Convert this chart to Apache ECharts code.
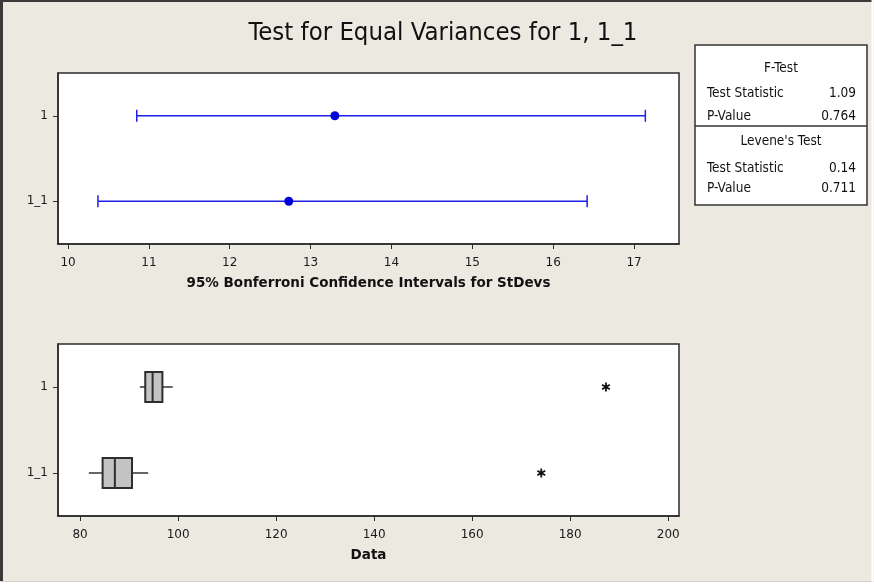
<!DOCTYPE html>
<html>
<head>
<meta charset="utf-8">
<script src="https://cdn.jsdelivr.net/npm/echarts@6/dist/echarts.min.js"></script>
<style>
  html, body { margin: 0; padding: 0; background: #ece9e1; }
  #chart { width: 874px; height: 584px; }
</style>
</head>
<body>
<div id="chart"></div>
<script>
// Groups (top to bottom)
const groups = ['1', '1_1'];

// 95% Bonferroni confidence intervals for the standard deviations
const sdLower = [10.85, 10.37];
const sdEstimate = [13.30, 12.73];
const sdUpper = [17.14, 16.42];
const sdTicks = [10, 11, 12, 13, 14, 15, 16, 17];

// Box plot summaries of the data
const whiskerLow = [92.2, 81.8];
const quartile1 = [93.3, 84.6];
const medians = [94.8, 87.1];
const quartile3 = [96.8, 90.6];
const whiskerHigh = [98.9, 93.9];
const outliers = [[187.3, '1'], [174.1, '1_1']];
const dataTicks = [80, 100, 120, 140, 160, 180, 200];

// Test results panel
const testHeaders = ['F-Test', "Levene's Test"];
const testStatistics = ['1.09', '0.14'];
const testPValues = ['0.764', '0.711'];

const FONT = 'DejaVu Sans Condensed, DejaVu Sans, sans-serif';
const TICK_FONT = 'DejaVu Sans, sans-serif';
const AXIS_COLOR = '#2b2b2b';
const BLUE = '#1f1fe8';
const DOT_BLUE = '#0000dd';

const chart = echarts.init(document.getElementById('chart'), null, { renderer: 'canvas' });

function valueAxis(gridIndex, min, max, ticks, name) {
  return {
    type: 'value', gridIndex, min, max,
    name, nameLocation: 'middle', nameGap: 32,
    nameTextStyle: { fontFamily: TICK_FONT, fontWeight: 'bold', fontSize: 13.5, color: '#111' },
    axisLine: { show: true, lineStyle: { color: AXIS_COLOR, width: 1.5 } },
    axisTick: { show: true, length: 5, lineStyle: { color: AXIS_COLOR, width: 1 }, customValues: ticks },
    axisLabel: { fontFamily: TICK_FONT, fontSize: 12, color: '#1a1a1a', margin: 13, customValues: ticks },
    splitLine: { show: false }
  };
}

function categoryAxis(gridIndex) {
  return {
    type: 'category', gridIndex, data: groups, inverse: true,
    boundaryGap: true,
    axisLine: { show: true, lineStyle: { color: AXIS_COLOR, width: 1.5 } },
    axisTick: { show: true, alignWithLabel: true, length: 5, lineStyle: { color: AXIS_COLOR } },
    axisLabel: { fontFamily: TICK_FONT, fontSize: 12, color: '#1a1a1a', margin: 10 },
    splitLine: { show: false }
  };
}

// Horizontal interval with end caps
function renderInterval(params, api) {
  const y = api.value(0);
  const p0 = api.coord([api.value(1), y]);
  const p1 = api.coord([api.value(2), y]);
  const cap = 6;
  const style = { stroke: BLUE, lineWidth: 1.5 };
  return {
    type: 'group',
    children: [
      { type: 'line', shape: { x1: p0[0], y1: p0[1], x2: p1[0], y2: p1[1] }, style },
      { type: 'line', shape: { x1: p0[0], y1: p0[1] - cap, x2: p0[0], y2: p0[1] + cap }, style },
      { type: 'line', shape: { x1: p1[0], y1: p1[1] - cap, x2: p1[0], y2: p1[1] + cap }, style }
    ]
  };
}

// Box with median line and whiskers (no whisker end caps)
function renderBox(params, api) {
  const y = api.value(0);
  const wl = api.coord([api.value(1), y]);
  const q1 = api.coord([api.value(2), y]);
  const md = api.coord([api.value(3), y]);
  const q3 = api.coord([api.value(4), y]);
  const wh = api.coord([api.value(5), y]);
  const h = 15;
  const stroke = { stroke: '#333', lineWidth: 1.5 };
  return {
    type: 'group',
    children: [
      { type: 'line', shape: { x1: wl[0], y1: wl[1], x2: q1[0], y2: q1[1] }, style: stroke },
      { type: 'line', shape: { x1: q3[0], y1: q3[1], x2: wh[0], y2: wh[1] }, style: stroke },
      { type: 'rect', shape: { x: q1[0], y: q1[1] - h, width: q3[0] - q1[0], height: 2 * h },
        style: { fill: '#c3c3c3', stroke: '#2e2e2e', lineWidth: 2 } },
      { type: 'line', shape: { x1: md[0], y1: md[1] - h, x2: md[0], y2: md[1] + h }, style: { stroke: '#2e2e2e', lineWidth: 2 } }
    ]
  };
}

// Asterisk marker for outliers
function renderStar(params, api) {
  const p = api.coord([api.value(0), api.value(1)]);
  const r = 4.5;
  const s = { stroke: '#111', lineWidth: 1.8 };
  const d = r * 0.87;
  return {
    type: 'group',
    children: [
      { type: 'line', shape: { x1: p[0], y1: p[1] - r, x2: p[0], y2: p[1] + r }, style: s },
      { type: 'line', shape: { x1: p[0] - d, y1: p[1] - r / 2, x2: p[0] + d, y2: p[1] + r / 2 }, style: s },
      { type: 'line', shape: { x1: p[0] - d, y1: p[1] + r / 2, x2: p[0] + d, y2: p[1] - r / 2 }, style: s },
      { type: 'circle', shape: { cx: p[0], cy: p[1], r: 1.8 }, style: { fill: '#111' } }
    ]
  };
}

// Results panel drawn as graphic elements
const panelX = 695, panelY = 45, panelW = 172, panelH = 160, dividerY = 126;
const panelText = (x, y, text, align) => ({
  type: 'text', x, y,
  style: { text, fill: '#111', font: '13.5px ' + FONT, textAlign: align || 'left', textVerticalAlign: 'middle' }
});
const panel = [
  { type: 'rect', shape: { x: panelX, y: panelY, width: panelW, height: panelH },
    style: { fill: '#fff', stroke: '#333', lineWidth: 1.5 } },
  { type: 'line', shape: { x1: panelX, y1: dividerY, x2: panelX + panelW, y2: dividerY },
    style: { stroke: '#333', lineWidth: 1.5 } },
  panelText(panelX + panelW / 2, 68, testHeaders[0], 'center'),
  panelText(707, 93, 'Test Statistic'),
  panelText(856, 93, testStatistics[0], 'right'),
  panelText(707, 116, 'P-Value'),
  panelText(856, 116, testPValues[0], 'right'),
  panelText(panelX + panelW / 2, 141, testHeaders[1], 'center'),
  panelText(707, 168, 'Test Statistic'),
  panelText(856, 168, testStatistics[1], 'right'),
  panelText(707, 188, 'P-Value'),
  panelText(856, 188, testPValues[1], 'right')
];

// Window frame
const frame = [
  { type: 'line', shape: { x1: 1, y1: 1, x2: 873, y2: 1 }, style: { stroke: '#3a3a3a', lineWidth: 2 } },
  { type: 'line', shape: { x1: 1.5, y1: 0, x2: 1.5, y2: 584 }, style: { stroke: '#3a3a3a', lineWidth: 3 } },
  { type: 'line', shape: { x1: 0, y1: 581.5, x2: 874, y2: 581.5 }, style: { stroke: '#d4d0c8', lineWidth: 1 } },
  { type: 'line', shape: { x1: 0, y1: 583, x2: 874, y2: 583 }, style: { stroke: '#ffffff', lineWidth: 2 } },
  { type: 'line', shape: { x1: 872.5, y1: 0, x2: 872.5, y2: 584 }, style: { stroke: '#ffffff', lineWidth: 2 } }
];

const option = {
  backgroundColor: '#ece9e1',
  animation: false,
  title: {
    text: 'Test for Equal Variances for 1, 1_1',
    left: 438, top: 15, textAlign: 'center',
    textStyle: { fontFamily: FONT, fontSize: 25.5, fontWeight: 'normal', color: '#111' }
  },
  grid: [
    { left: 58, top: 73, width: 621, height: 171, show: true, backgroundColor: '#fff', borderColor: AXIS_COLOR, borderWidth: 1.5 },
    { left: 58, top: 344, width: 621, height: 172, show: true, backgroundColor: '#fff', borderColor: AXIS_COLOR, borderWidth: 1.5 }
  ],
  xAxis: [
    valueAxis(0, 9.876, 17.556, sdTicks, '95% Bonferroni Confidence Intervals for StDevs'),
    valueAxis(1, 75.5, 202.2, dataTicks, 'Data')
  ],
  yAxis: [categoryAxis(0), categoryAxis(1)],
  graphic: frame.concat(panel),
  series: [
    {
      type: 'custom', xAxisIndex: 0, yAxisIndex: 0,
      renderItem: renderInterval,
      encode: { y: 0, x: [1, 2] },
      data: groups.map((g, i) => [g, sdLower[i], sdUpper[i]])
    },
    {
      type: 'scatter', xAxisIndex: 0, yAxisIndex: 0,
      symbol: 'circle', symbolSize: 9,
      itemStyle: { color: DOT_BLUE, opacity: 1 },
      data: groups.map((g, i) => [sdEstimate[i], g])
    },
    {
      type: 'custom', xAxisIndex: 1, yAxisIndex: 1,
      renderItem: renderBox,
      encode: { y: 0, x: [1, 2, 3, 4, 5] },
      data: groups.map((g, i) => [g, whiskerLow[i], quartile1[i], medians[i], quartile3[i], whiskerHigh[i]])
    },
    {
      type: 'custom', xAxisIndex: 1, yAxisIndex: 1,
      renderItem: renderStar,
      encode: { x: 0, y: 1 },
      data: outliers
    }
  ]
};

chart.setOption(option);
</script>
</body>
</html>
